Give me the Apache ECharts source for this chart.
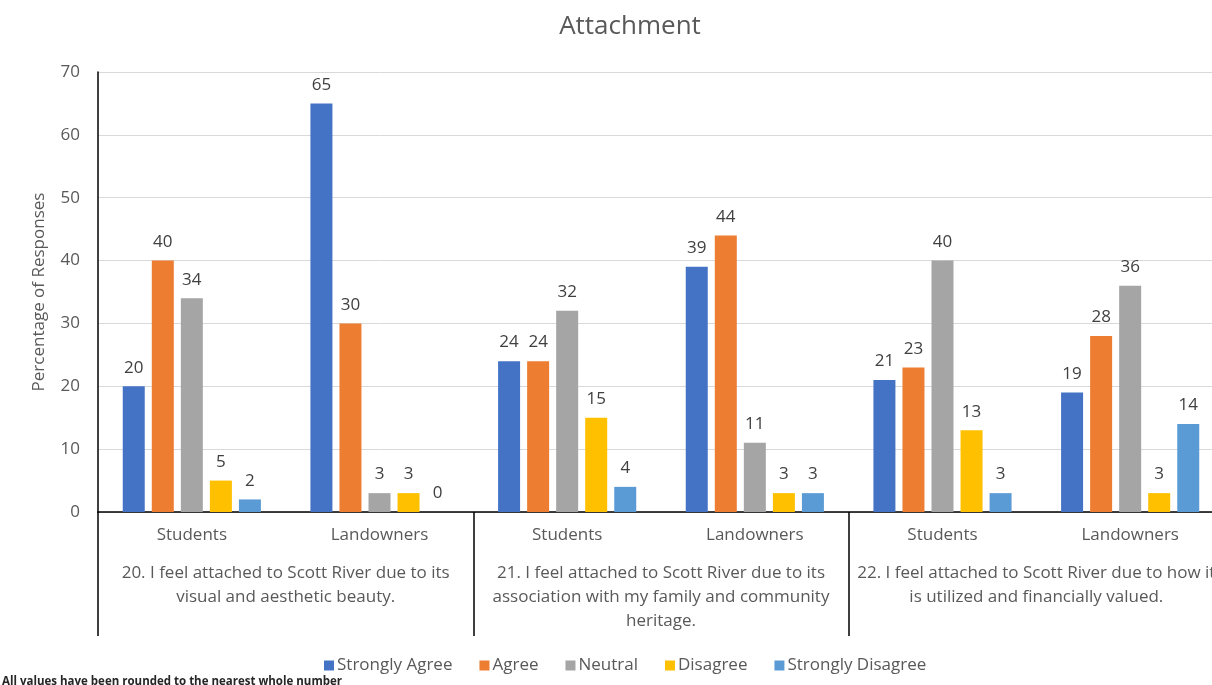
<!DOCTYPE html>
<html>
<head>
<meta charset="utf-8">
<title>Attachment</title>
<script src="https://cdn.jsdelivr.net/npm/echarts@6/dist/echarts.min.js"></script>
<style>
  html, body { margin: 0; padding: 0; background: #ffffff; overflow: hidden; }
  /* the chart runs slightly past the right edge of the window */
  #chart { width: 1224px; height: 685px; }
</style>
</head>
<body>
<div id="chart"></div>
<script>
// Respondent groups, repeated under each statement
const groups = ['Students', 'Landowners', 'Students', 'Landowners', 'Students', 'Landowners'];

// Survey statements spanning two groups each
const statements = [
  '20. I feel attached to Scott River due to its\nvisual and aesthetic beauty.',
  '21. I feel attached to Scott River due to its\nassociation with my family and community\nheritage.',
  '22. I feel attached to Scott River due to how it\nis utilized and financially valued.'
];

// Percentage of responses (rounded) per answer
const stronglyAgree    = [20, 65, 24, 39, 21, 19];
const agree            = [40, 30, 24, 44, 23, 28];
const neutral          = [34, 3, 32, 11, 40, 36];
const disagree         = [5, 3, 15, 3, 13, 3];
const stronglyDisagree = [2, 0, 4, 3, 3, 14];

const yTicks = [0, 10, 20, 30, 40, 50, 60, 70];

const FONT = '"Open Sans", Lato, sans-serif';
const TEXT = '#595959';
const FS = 17;

function bar(name, data, color) {
  return {
    name: name,
    type: 'bar',
    data: data,
    barWidth: 22,
    barGap: '32%',
    itemStyle: { color: color },
    label: {
      show: true,
      position: 'top',
      distance: 10,
      color: '#404040',
      fontFamily: FONT,
      fontSize: FS
    }
  };
}

const chart = echarts.init(document.getElementById('chart'), null, { renderer: 'canvas' });

chart.setOption({
  animation: false,
  backgroundColor: '#ffffff',
  title: {
    text: 'Attachment',
    left: 625,
    top: 9,
    textAlign: 'center',
    textStyle: { color: TEXT, fontFamily: FONT, fontSize: 26, fontWeight: 'normal' }
  },
  legend: {
    top: 652,
    left: 319,
    itemWidth: 10,
    itemHeight: 10,
    itemGap: 27,
    icon: 'rect',
    textStyle: { color: TEXT, fontFamily: FONT, fontSize: FS, padding: [0, 0, 0, -2] },
    data: ['Strongly Agree', 'Agree', 'Neutral', 'Disagree', 'Strongly Disagree']
  },
  graphic: [{
    type: 'text',
    left: 2,
    top: 676,
    style: {
      text: 'All values have been rounded to the nearest whole number',
      fill: '#262626',
      font: 'bold 11.5px ' + FONT
    }
  }],
  grid: { left: 98, top: 72, right: 0, bottom: 173, containLabel: false },
  xAxis: [
    {
      type: 'category',
      data: groups,
      position: 'bottom',
      axisLine: { show: true, lineStyle: { color: '#000000', width: 1.5 } },
      axisTick: { show: false },
      axisLabel: { interval: 0, margin: 15, color: TEXT, fontFamily: FONT, fontSize: FS }
    },
    {
      type: 'category',
      data: statements,
      position: 'bottom',
      offset: 0,
      axisLine: { show: false },
      axisTick: { show: true, length: 124, lineStyle: { color: '#000000', width: 1.5 } },
      axisLabel: {
        interval: 0, margin: 49, color: TEXT, fontFamily: FONT, fontSize: FS,
        lineHeight: 24, align: 'center'
      }
    }
  ],
  yAxis: {
    type: 'value',
    min: yTicks[0],
    max: yTicks[yTicks.length - 1],
    interval: 10,
    name: 'Percentage of Responses',
    nameLocation: 'middle',
    nameRotate: 90,
    nameGap: 50,
    nameTextStyle: { color: TEXT, fontFamily: FONT, fontSize: FS },
    axisLine: { show: true, lineStyle: { color: '#000000', width: 1.5 } },
    axisTick: { show: false },
    axisLabel: { margin: 18, color: TEXT, fontFamily: FONT, fontSize: FS },
    splitLine: { show: true, lineStyle: { color: '#d9d9d9', width: 1 } }
  },
  series: [
    bar('Strongly Agree', stronglyAgree, '#4472C4'),
    bar('Agree', agree, '#ED7D31'),
    bar('Neutral', neutral, '#A5A5A5'),
    bar('Disagree', disagree, '#FFC000'),
    bar('Strongly Disagree', stronglyDisagree, '#5B9BD5')
  ]
});
</script>
</body>
</html>
